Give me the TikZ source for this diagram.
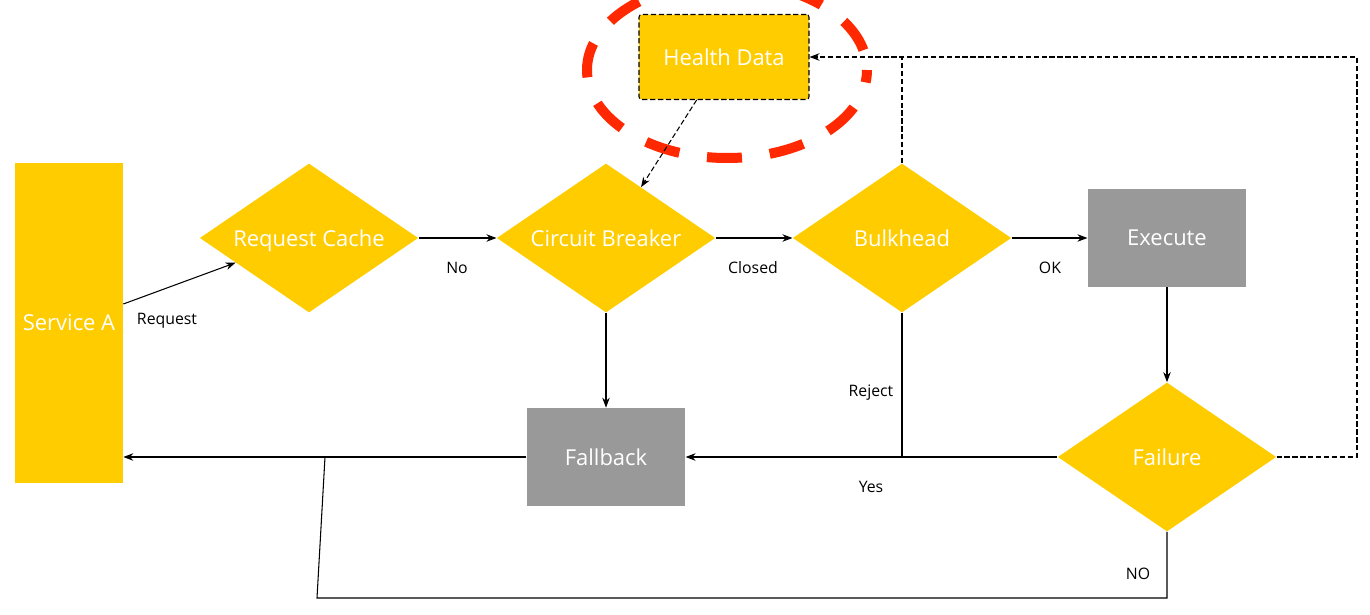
\documentclass[tikz,border=0pt]{standalone}
\usepackage{fontspec}
\setmainfont{Open Sans}
\usetikzlibrary{shapes.geometric,arrows.meta,calc}

\definecolor{r255g204b0}{RGB}{255,204,0}
\definecolor{r153g153b153}{RGB}{153,153,153}
\definecolor{r255g40b0}{RGB}{255,40,0}

\newcommand{\boxfont}{\fontsize{12.5}{14}\selectfont}
\newcommand{\tagfont}{\fontsize{9}{11}\selectfont}

\tikzset{
  yellowbox/.style={rectangle,fill=r255g204b0,text=white,inner sep=0pt,font=\boxfont},
  greybox/.style={rectangle,fill=r153g153b153,text=white,inner sep=0pt,font=\boxfont,
    minimum width=3.17cm,minimum height=1.96cm},
  decision/.style={diamond,fill=r255g204b0,inner sep=0pt,
    minimum width=4.37cm,minimum height=2.98cm,
    label={[text=white,font=\boxfont,text height=1.6ex,text depth=0.2ex,yshift=-1.2pt]center:#1}},
  flow/.style={line width=0.6pt,-{Stealth[length=0.2cm,width=0.15cm]}},
  plain/.style={line width=0.6pt},
  feedback/.style={line width=0.6pt,dashed,dash pattern=on 3pt off 1.5pt},
  tag/.style={font=\tagfont,inner sep=0pt}
}

\begin{document}
\begin{tikzpicture}[x=0.02cm,y=-0.02cm]
  \useasboundingbox (0,0) rectangle (1370,615);

  % Marking the area round Health Data
  \draw [r255g40b0,line width=0.2cm,dash pattern=on 0.7cm off 0.56cm,dash phase=0.45cm]
    (727,70) ellipse [x radius=140,y radius=88];%

  % Drawing nodes
  \node [yellowbox,minimum width=2.16cm,minimum height=6.4cm] (serviceA) at (69,323) {Service A};%
  \node [decision=Request Cache] (cache) at (309,238) {};%
  \node [decision=Circuit Breaker] (breaker) at (606,238) {};%
  \node [decision=Bulkhead] (bulkhead) at (902,238) {};%
  \node [greybox] (execute) at (1167,238) {Execute};%
  \node [decision=Failure] (failure) at (1167,457) {};%
  \node [greybox] (fallback) at (606,457) {Fallback};%
  \node [yellowbox,draw=black,feedback,rounded corners=1.5pt,
    minimum width=3.4cm,minimum height=1.7cm] (health) at (724,57) {Health Data};%

  % Drawing arrows of the main path
  \draw [flow] ($(serviceA.east)+(0,-19)$) -- ($(cache.west)!0.33!(cache.south)$);%
  \draw [flow] (cache.east) -- (breaker.west);%
  \draw [flow] (breaker.east) -- (bulkhead.west);%
  \draw [flow] (bulkhead.east) -- (execute.west);%
  \draw [flow] (execute.south) -- (failure.north);%
  \draw [flow] (breaker.south) -- (fallback.north);%
  \draw [flow] (failure.west) -- (fallback.east);%
  \draw [flow] (fallback.west) -- (serviceA.east |- fallback.west);%
  \draw [plain] (bulkhead.south) -- (bulkhead.south |- fallback.west);%

  % Drawing line failure NO back to service A
  \coordinate (loopend) at (317,598);%
  \coordinate (loopjoin) at (325,457);%
  \draw [plain] (failure.south) |- (loopend) -- (loopjoin);%

  % Drawing dashed lines to Health Data
  \coordinate (healthturn) at (1357,57);%
  \draw [feedback,-{Stealth[length=0.2cm,width=0.15cm]}] (failure.east) -| (healthturn) -- (health.east);%
  \draw [feedback] (bulkhead.north) -- (bulkhead.north |- health.east);%
  \draw [feedback,-{Stealth[length=0.2cm,width=0.15cm]}]
    ($(health.south west)!0.34!(health.south east)$) -- ($(breaker.north)!0.32!(breaker.east)$);%

  % Marking labels
  \node [tag] (tagRequest) at (167,321) {Request};%
  \node [tag] (tagNo) at (457,268) {No};%
  \node [tag] (tagClosed) at (753,268) {Closed};%
  \node [tag] (tagOK) at (1050,268) {OK};%
  \node [tag] (tagReject) at (871,393) {Reject};%
  \node [tag] (tagYes) at (871,487) {Yes};%
  \node [tag] (tagNO) at (1138,574) {NO};%
\end{tikzpicture}
\end{document}
